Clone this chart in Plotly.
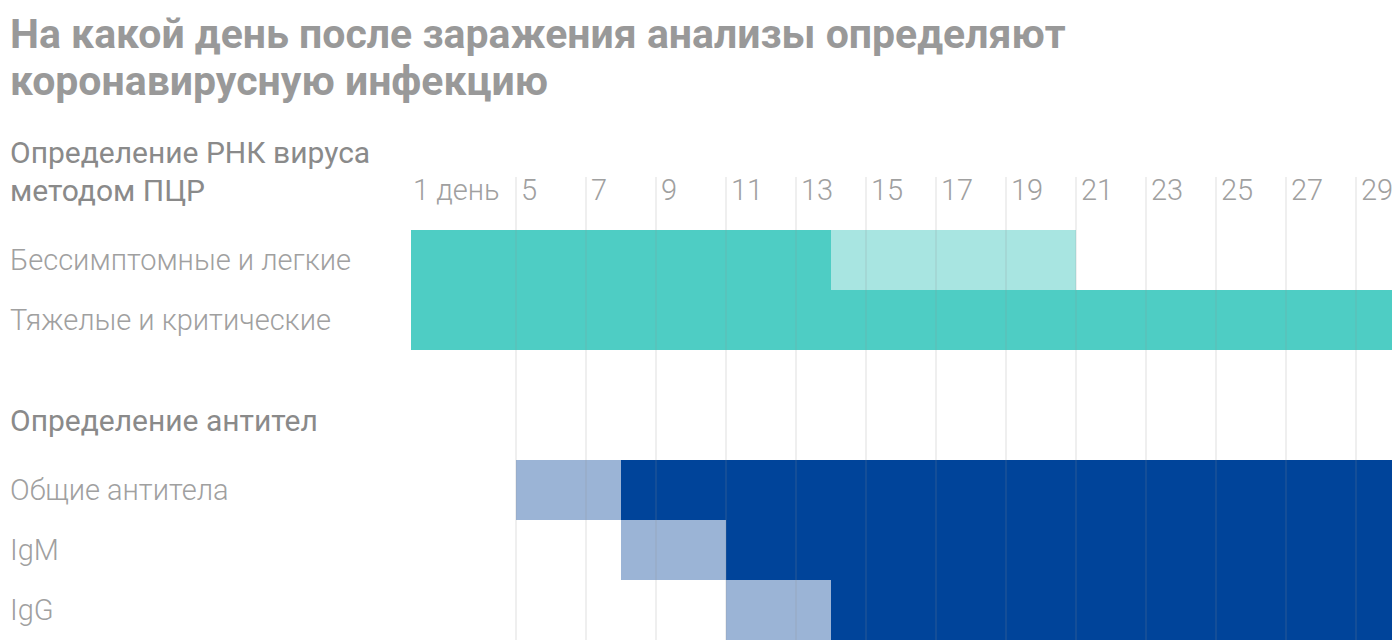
import plotly.graph_objects as go

# --- data ---
tick_days = [2, 5, 7, 9, 11, 13, 15, 17, 19, 21, 23, 25, 27, 29]
tick_text = ["1 день", "5", "7", "9", "11", "13", "15", "17", "19", "21", "23", "25", "27", "29"]

pcr_rows = ["Бессимптомные и легкие", "Тяжелые и критические"]
pcr_start = [2, 2]
pcr_sure_end = [14, 31]      # reliably detected
pcr_maybe_end = [21, 31]     # may still be detected

ab_rows = ["Общие антитела", "IgM", "IgG"]
ab_maybe_start = [5, 8, 11]
ab_sure_start = [8, 11, 14]
ab_end = [31, 31, 31]

title_lines = ["На какой день после заражения анализы определяют", "коронавирусную инфекцию"]
pcr_header = ["Определение РНК вируса", "методом ПЦР"]
ab_header = "Определение антител"

TEAL, TEAL_LIGHT = "#4ecdc4", "#a8e5e1"
NAVY, NAVY_LIGHT = "#00449a", "#9bb4d6"
FONT = "Roboto"

# the page body has an 8px margin, so the figure is drawn 8px smaller
# and everything below is measured from the window corner minus that
OFF = 8
W, H = 1400 - OFF, 640 - OFF
PX_PER_DAY = 35
X0 = 516 - OFF - 5 * PX_PER_DAY  # pixel of day 0


def py(p):
    # window pixel from top -> paper y
    return 1 - (p - OFF) / H


def label(text, y, size, weight, color, yref="paper"):
    fig.add_annotation(x=0, y=y, xref="paper", yref=yref, xanchor="left", yanchor="middle",
                       showarrow=False, text=text,
                       font=dict(family=FONT, size=size, color=color, weight=weight))


fig = go.Figure()

# PCR bars (light part first, dark on top)
fig.add_trace(go.Bar(
    y=pcr_rows, x=[e - s for s, e in zip(pcr_start, pcr_maybe_end)], base=pcr_start,
    orientation="h", marker=dict(color=TEAL_LIGHT, line=dict(width=0)), width=1,
    yaxis="y", xaxis="x", hoverinfo="skip"))
fig.add_trace(go.Bar(
    y=pcr_rows, x=[e - s for s, e in zip(pcr_start, pcr_sure_end)], base=pcr_start,
    orientation="h", marker=dict(color=TEAL, line=dict(width=0)), width=1,
    yaxis="y", xaxis="x", hoverinfo="skip"))

# antibody bars
fig.add_trace(go.Bar(
    y=ab_rows, x=[e - s for s, e in zip(ab_maybe_start, ab_end)], base=ab_maybe_start,
    orientation="h", marker=dict(color=NAVY_LIGHT, line=dict(width=0)), width=1,
    yaxis="y2", xaxis="x2", hoverinfo="skip"))
fig.add_trace(go.Bar(
    y=ab_rows, x=[e - s for s, e in zip(ab_sure_start, ab_end)], base=ab_sure_start,
    orientation="h", marker=dict(color=NAVY, line=dict(width=0)), width=1,
    yaxis="y2", xaxis="x2", hoverinfo="skip"))

xr = [-X0 / PX_PER_DAY, (W - X0) / PX_PER_DAY]
axis_off = dict(showgrid=False, zeroline=False, showticklabels=False, ticks="", showline=False, fixedrange=True)

fig.update_layout(
    width=W, height=H, margin=dict(l=0, r=0, t=0, b=0),
    paper_bgcolor="white", plot_bgcolor="rgba(0,0,0,0)",
    barmode="overlay", showlegend=False,
    font=dict(family=FONT, color="#999999"),
    xaxis=dict(range=xr, domain=[0, 1], anchor="y", **axis_off),
    xaxis2=dict(range=xr, domain=[0, 1], anchor="y2", matches="x", **axis_off),
    yaxis=dict(domain=[py(350), py(230)], anchor="x", categoryorder="array",
               categoryarray=pcr_rows, autorange="reversed", **axis_off),
    yaxis2=dict(domain=[0, py(460)], anchor="x2", categoryorder="array",
                categoryarray=ab_rows, autorange="reversed", **axis_off),
)

# vertical grid lines drawn over the bars
for d in tick_days[1:]:
    fig.add_shape(type="line", xref="x", yref="paper", x0=d, x1=d, y0=0, y1=py(177),
                  line=dict(color="rgba(140,140,140,0.22)", width=1.3), layer="above")

# tick labels, left-aligned next to their grid line
for d, t in zip(tick_days, tick_text):
    fig.add_annotation(x=d, y=py(190), xref="x", yref="paper", text=t, showarrow=False,
                       xanchor="left", yanchor="middle", xshift=3 if d > 2 else 0,
                       font=dict(family=FONT, size=29, color="#a0a0a0", weight=300))

# title (kept just inside the top edge)
label(title_lines[0], py(34), 41, 700, "#999999")
label(title_lines[1], py(81), 41, 700, "#999999")

# section headers
label(pcr_header[0], py(152), 30, 400, "#8a8a8a")
label(pcr_header[1], py(190), 30, 400, "#8a8a8a")
label(ab_header, py(420), 30, 400, "#8a8a8a")

# row labels
for rows, yref in ((pcr_rows, "y"), (ab_rows, "y2")):
    for r in rows:
        label(r, r, 29, 300, "#a0a0a0", yref=yref)

fig.write_html("out.html")
